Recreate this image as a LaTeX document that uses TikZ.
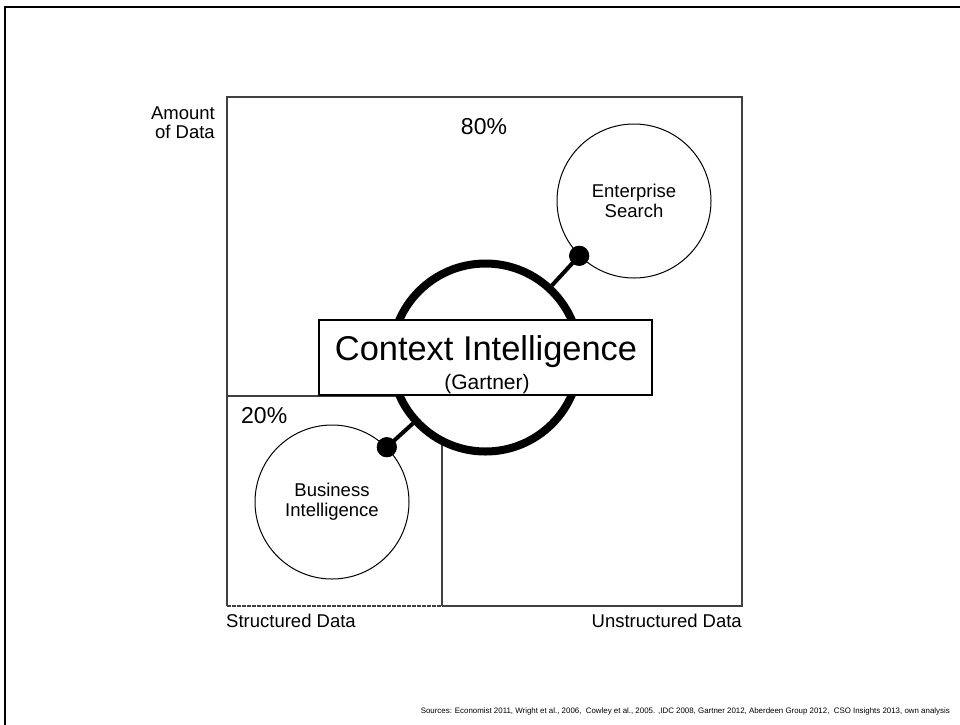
\documentclass[tikz,border=0pt]{standalone}
\usepackage{fontspec}
\setmainfont{Liberation Sans}
\begin{document}
\begin{tikzpicture}[x=1pt,y=-1pt,
  boxline/.style={draw=black!75, line width=1.2pt},
  bubble/.style={draw, circle, line width=1pt, fill=white, minimum size=154pt, inner sep=0pt, align=center, font=\fontsize{18.5}{20}\selectfont},
  dotnode/.style={circle, fill=black, minimum size=20pt, inner sep=0pt},
  conn/.style={line width=4pt},
  lbl/.style={inner sep=0pt, font=\fontsize{18.5}{19}\selectfont},
  pct/.style={inner sep=0pt, font=\fontsize{23}{24}\selectfont}]
\useasboundingbox (0,0) rectangle (960,724);
\clip (0,0) rectangle (960,724);
% outer frame
\draw[line width=2.5pt] (5,7) rectangle (1000,800);
% quadrant box
\coordinate (tl) at (227,97);
\coordinate (tr) at (742,97);
\coordinate (br) at (742,606);
\coordinate (bl) at (227,606);
\coordinate (mid) at (442,606);
\coordinate (divl) at (227,396);
\coordinate (divr) at (442,396);
\draw[boxline] (mid) -- (br) -- (tr) -- (tl) -- (bl);
\draw[boxline, dash pattern=on 4pt off 1pt] (bl) -- (mid);
\draw[boxline] (divl) -- (divr) -- (mid);
% labels
\node[lbl, anchor=base east, align=right] (amount) at (215,138) {Amount\\of Data};
\node[lbl, anchor=base west] (struct) at (226,627) {Structured Data};
\node[lbl, anchor=base east] (unstruct) at (742,627) {Unstructured Data};
\node[pct, anchor=base] (p80) at (484,134) {80\%};
\node[pct, anchor=base west] (p20) at (241,423) {20\%};
% circles
\node[bubble] (es) at (634,201) {Enterprise\\Search};
\node[bubble] (bi) at (332,502) {Business\\Intelligence};
\node[draw, circle, line width=8pt, fill=white, minimum size=188pt, inner sep=0pt] (ci) at (485.5,357.5) {};
% connectors
\node[dotnode] (esdot) at (es.225) {};
\node[dotnode] (bidot) at (bi.45) {};
\draw[conn] (esdot.center) -- (ci);
\draw[conn] (bidot.center) -- (ci);
\node[dotnode] at (esdot.center) {};
\node[dotnode] at (bidot.center) {};
% context box
\node[draw, line width=1.3pt, fill=white, minimum width=333pt, minimum height=75pt, inner sep=0pt] (cibox) at (485.5,357.5) {};
\node[anchor=base, inner sep=0pt, font=\fontsize{34.4}{36}\selectfont] (cit) at (486,360) {Context Intelligence};
\node[anchor=base, inner sep=0pt, font=\fontsize{21}{22}\selectfont] (gart) at (487,389) {(Gartner)};
% sources
\node[anchor=base east, inner sep=0pt, font=\fontsize{7.9}{9}\selectfont] (src) at (950,713) {Sources: Economist 2011, Wright et al., 2006,\ \ Cowley et al., 2005. ,IDC 2008, Gartner 2012, Aberdeen Group 2012,\ \ CSO Insights 2013, own analysis};
\end{tikzpicture}
\end{document}
